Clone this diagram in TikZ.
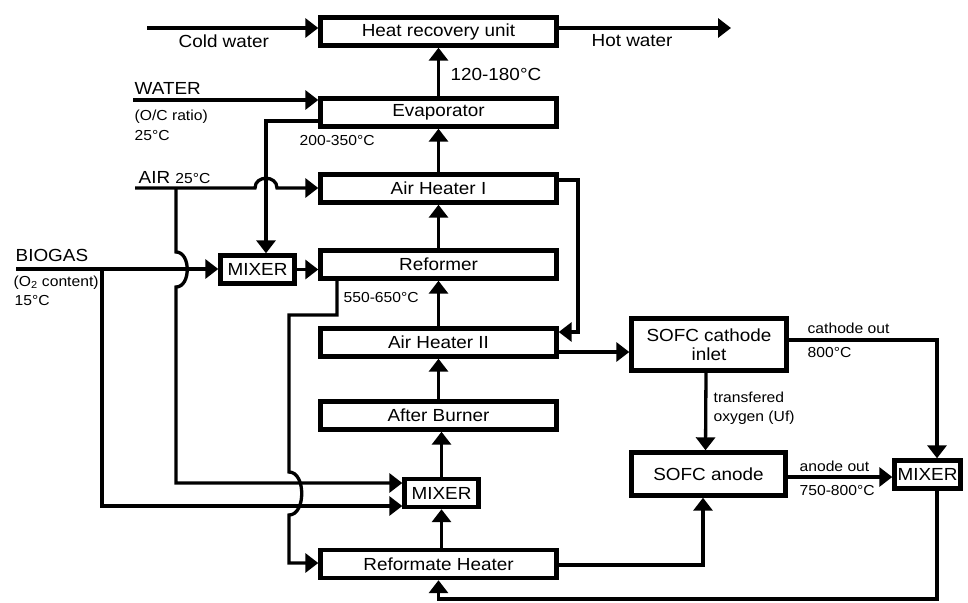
\documentclass[tikz,border=0pt]{standalone}
\usepackage{fontspec}
\setmainfont{Liberation Sans}[FakeStretch=1.08]
\usetikzlibrary{arrows.meta}

\newcommand\lblsize{\fontsize{14.5}{17}\selectfont}
\newcommand\boxsize{\fontsize{17.5}{19}\selectfont}

\begin{document}
\begin{tikzpicture}[x=1pt, y=-1pt, line width=3.3pt,
  unit/.style={draw, line width=4.4pt, minimum width=236pt, minimum height=28pt,
    inner sep=0pt, font=\boxsize},
  mixer/.style={unit, minimum width=74pt},
  flow/.style={-{Triangle[length=13pt,width=19pt]}},
  txt/.style={anchor=base west, inner sep=0pt, font=\boxsize},
  sml/.style={txt, font=\lblsize},
]
  \useasboundingbox (0,0) rectangle (968,602);

  % main column
  \node[unit] (hru)  at (438.5,31.5) {Heat recovery unit};
  \node[unit] (evap) at (438.5,112.5) {Evaporator};
  \node[unit] (ah1)  at (438.5,188.5) {Air Heater I};
  \node[unit] (ref)  at (438.5,264.5) {Reformer};
  \node[unit] (ah2)  at (438.5,342.5) {Air Heater II};
  \node[unit] (ab)   at (438.5,415.5) {After Burner};
  \node[unit] (rh)   at (438.5,564) {Reformate Heater};
  \node[mixer] (mix1) at (257.5,269.5) {MIXER};
  \node[mixer] (mix2) at (441.5,493) {MIXER};
  \node[mixer, minimum width=66pt] (mix3) at (927.5,474.5) {MIXER};
  \node[unit, minimum width=155pt, minimum height=52pt, align=center] (cath)
    at (709,344.5) {SOFC cathode\\inlet};
  \node[unit, minimum width=154pt, minimum height=43pt] (anode) at (708.5,474) {SOFC anode};

  \foreach \a/\b in {ab/ah2, ah2/ref, ref/ah1, ah1/evap, evap/hru}
    \draw[flow] (\a.north) -- (\b.south);
  \draw[flow] (mix2.south |- rh.north) -- (mix2.south);
  \draw[flow] (mix2.north) -- (mix2.north |- ab.south);

  % water in / out
  \coordinate (cw) at (147,28);
  \coordinate (hw) at (731,28);
  \draw[flow] (cw) -- (cw -| hru.west);
  \draw[flow] (hw -| hru.east) -- (hw);
  \coordinate (w0) at (133,100);
  \draw[flow] (w0) -- (w0 -| evap.west);
  \coordinate (e1) at (266,121);
  \draw[flow] (e1 -| evap.west) -- (e1) -- (e1 |- mix1.north);

  % air
  \coordinate (a0) at (135,188);
  \coordinate (a1) at (176,188);
  \coordinate (m2a) at (176,483);
  \draw[flow] (a0) -- (255,188) .. controls (255,175) and (277,175) .. (277,188)
    -- (a0 -| ah1.west);
  \draw[flow] (a1) -- (176,252) .. controls (191,252) and (191,287) .. (176,287)
    -- (m2a) -- (m2a -| mix2.west);

  % biogas
  \coordinate (b0) at (16,269);
  \coordinate (b1) at (102,269);
  \coordinate (m2b) at (102,506);
  \draw[flow] (b0) -- (b0 -| mix1.west);
  \draw[flow] (b1) -- (m2b) -- (m2b -| mix2.west);
  \draw[flow] (mix1.east) -- (mix1.east -| ref.west);

  % air heater loop
  \coordinate (r1) at (578,180);
  \coordinate (r2) at (578,332);
  \draw[flow] (r1 -| ah1.east) -- (r1) -- (r2) -- (r2 -| ah2.east);
  \coordinate (c0) at (600,352);
  \draw[flow] (c0 -| ah2.east) -- (c0 -| cath.west);

  % reformate
  \coordinate (f1) at (337,315);
  \coordinate (f2) at (289,315);
  \coordinate (f3) at (289,563);
  \draw[flow] (f1 |- ref.south) -- (f1) -- (f2) -- (289,472)
    .. controls (306,472) and (306,515) .. (289,515) -- (f3) -- (f3 -| rh.west);
  \coordinate (g1) at (703,565);
  \draw[flow] (g1 -| rh.east) -- (g1) -- (g1 |- anode.south);

  % fuel cell
  \draw[flow] ([xshift=-3pt]cath.south) -- ([xshift=-3pt]anode.north);
  \coordinate (k1) at (937,340);
  \coordinate (k2) at (937,599);
  \draw[flow] (k1 -| cath.east) -- (k1) -- (k1 |- mix3.north);
  \coordinate (n1) at (800,477);
  \draw[flow] (n1 -| anode.east) -- (n1 -| mix3.west);
  \draw[flow] (k1 |- mix3.south) -- (k2) -- (k2 -| rh.south) -- (rh.south);

  % labels
  \node[txt] (cwl) at (177,48) {Cold water};
  \node[txt] (hwl) at (590,47) {Hot water};
  \node[txt] (t1) at (449,81) {120-180°C};
  \node[txt] (wl) at (133,94) {WATER};
  \node[sml] (wl2) at (133,120) {(O/C ratio)};
  \node[sml] (wl3) at (133,140) {25°C};
  \node[sml] (t2) at (298,145) {200-350°C};
  \node[txt] (al) at (137,183) {AIR {\lblsize 25°C}};
  \node[txt] (bl) at (14,261) {BIOGAS};
  \node[sml] (bl2) at (12,286) {(O\textsubscript{2} content)};
  \node[sml] (bl3) at (13,305) {15°C};
  \node[sml] (t3) at (342,302) {550-650°C};
  \node[sml] (col) at (806,333) {cathode out};
  \node[sml] (t4) at (806,357) {800°C};
  \node[sml] (ox1) at (712,402) {transfered};
  \node[sml] (ox2) at (712,421) {oxygen (Uf)};
  \node[sml] (aol) at (798,471) {anode out};
  \node[sml] (t5) at (798,495) {750-800°C};
\end{tikzpicture}
\end{document}
